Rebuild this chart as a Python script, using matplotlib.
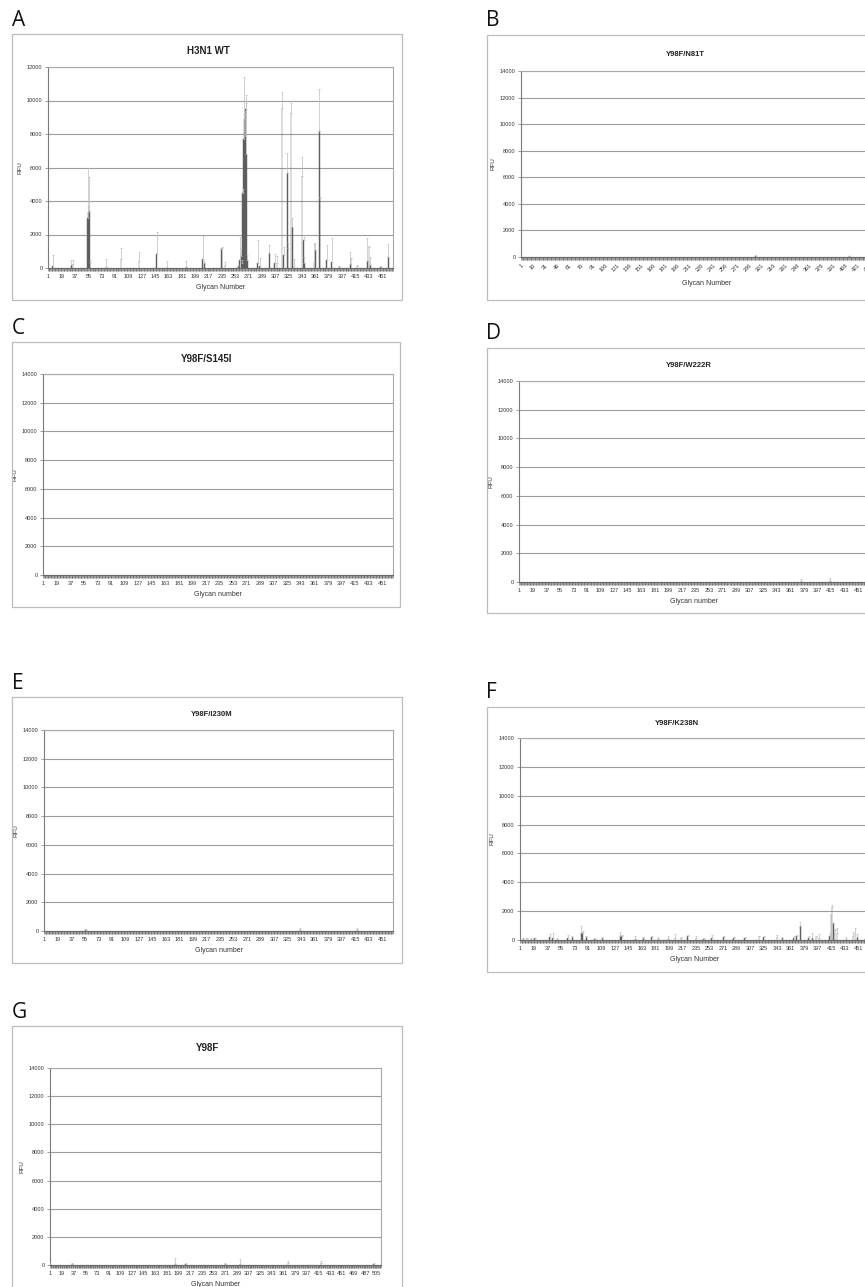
import numpy as np
import matplotlib.pyplot as plt
from matplotlib.patches import Rectangle

W, H = 865, 1287

############## data (RFU peaks, other glycans ~0) ##############
# A  H3N1 WT
a_glycan = [7, 32, 34, 54, 55, 56, 57, 79, 99, 123, 147, 161, 187, 209, 211, 234, 235, 239,
            257, 259, 261, 262, 263, 264, 265, 266, 267, 268, 269, 283, 286, 299, 306, 309,
            316, 318, 323, 324, 328, 330, 332, 343, 345, 346, 359, 361, 366, 367, 376, 383,
            393, 408, 409, 417, 431, 433, 435, 449, 459]
a_rfu = [100, 150, 250, 3000, 3350, 3400, 300, 60, 540, 420, 840, 30, 30, 540, 300, 1150, 1200, 180,
         100, 500, 700, 300, 4500, 7700, 8900, 7900, 9500, 6800, 500, 300, 100, 870, 300, 280,
         9570, 800, 5650, 1180, 9270, 2470, 100, 5490, 1670, 300, 380, 1100, 8180, 4160, 480, 380,
         50, 240, 520, 100, 440, 1270, 150, 50, 680]
a_err = [680, 300, 230, 700, 2650, 2050, 200, 460, 640, 550, 1300, 390, 390, 1370, 120, 60, 60, 200,
         100, 1370, 500, 200, 200, 3700, 300, 1500, 350, 3500, 300, 1370, 500, 500, 540, 430,
         920, 460, 1200, 300, 560, 500, 430, 1160, 200, 380, 1030, 370, 2490, 100, 890, 1430,
         70, 730, 80, 100, 1370, 60, 530, 50, 730]

# B  Y98F/N81T
b_glycan = [294, 411]
b_rfu = [80, 60]
b_err = [70, 50]

# C  Y98F/S145I
c_glycan = []
c_rfu = []
c_err = []

# D  Y98F/W222R
d_glycan = [375, 414]
d_rfu = [50, 80]
d_err = [150, 170]

# E  Y98F/I230M
e_glycan = [56, 342, 418]
e_rfu = [50, 80, 100]
e_err = [60, 120, 120]

# F  Y98F/K238N
f_glycan = [5, 10, 15, 20, 40, 44, 50, 64, 70, 82, 84, 89, 100, 110, 134, 136, 154, 165, 176, 185,
            198, 207, 215, 224, 235, 245, 256, 272, 285, 300, 319, 325, 343, 350, 365, 369, 374,
            385, 390, 395, 399, 413, 415, 416, 418, 420, 423, 435, 444, 447, 450, 460]
f_rfu = [100, 120, 100, 110, 200, 150, 80, 150, 200, 480, 500, 200, 100, 120, 300, 300, 100, 120, 200, 100,
         100, 150, 150, 300, 150, 100, 150, 200, 150, 120, 250, 200, 200, 150, 150, 250, 1000,
         150, 150, 200, 150, 300, 1700, 2310, 1150, 690, 470, 100, 300, 400, 200, 100]
f_err = [50, 40, 50, 40, 220, 350, 60, 200, 50, 520, 150, 50, 40, 60, 230, 20, 150, 60, 50, 80,
         200, 250, 50, 50, 100, 60, 180, 50, 50, 60, 60, 80, 130, 60, 100, 80, 230,
         100, 310, 80, 250, 200, 100, 90, 50, 100, 330, 80, 230, 400, 200, 50]

# G  Y98F
g_glycan = [1, 35, 194, 210, 271, 294, 368, 419, 500]
g_rfu = [80, 80, 60, 80, 100, 100, 150, 150, 80]
g_err = [60, 40, 460, 40, 60, 300, 100, 150, 30]

def fx(px):
    return px / W

def fy(py):
    return 1 - py / H

def px_axes(fig, l, t, r, b):
    return fig.add_axes([fx(l), fy(b), fx(r - l), (b - t) / H])


def panel(fig, letter, title, tx, frame, plot, n, ymax, xlab, gly, rfu, err,
          tsize=5.5, rot=False, lx=12, last_label=None):
    fl, ft, fr, fb = frame
    fig.add_artist(Rectangle((fx(fl), fy(fb)), fx(fr - fl), (fb - ft) / H,
                             transform=fig.transFigure, fill=False,
                             edgecolor='#bdbdbd', lw=0.9))
    fig.text(fx(lx), fy(ft - 14), letter, fontsize=15, family='Open Sans',
             ha='left', va='center', color='#111111')
    l, t, r, b = plot
    fig.text(fx(tx), fy((ft + t) / 2 + 1), title,
             fontsize=tsize, fontweight='bold', family='Liberation Sans',
             ha='center', va='center', color='#222222')

    ax = px_axes(fig, l, t, r, b)
    if len(gly):
        ax.bar(gly, rfu, width=0.9, color='#5e5e5e', edgecolor='#5e5e5e', lw=0.3,
               yerr=[np.zeros(len(err)), err],
               error_kw=dict(ecolor='#bdbdbd', elinewidth=0.5, capsize=0.9, capthick=0.5),
               zorder=3)
    ax.set_xlim(0.5, n + 0.5)
    ax.set_ylim(0, ymax)
    ax.set_yticks(np.arange(0, ymax + 1, 2000))
    ax.grid(axis='y', color='#9c9c9c', lw=0.8)
    ax.set_axisbelow(True)
    for s in ax.spines.values():
        s.set_color('#a8a8a8')
        s.set_linewidth(0.8)
    ax.spines['left'].set_color('#7a7a7a')
    ax.spines['bottom'].set_color('#6a6a6a')

    interval = 15 if rot else 18
    ax.set_xticks(np.arange(1, (last_label or n) + 1, interval))
    ax.set_xticks(np.arange(0.5, n + 1, 1), minor=True)
    ax.tick_params(axis='x', which='major', length=0, labelsize=4, colors='#333333', pad=4)
    ax.tick_params(axis='x', which='minor', length=2.2, width=0.4, color='#555555')
    ax.tick_params(axis='y', length=2, width=0.5, color='#777777', labelsize=4,
                   labelcolor='#333333', pad=2)
    if rot:
        for lab in ax.get_xticklabels():
            lab.set_rotation(45)
            lab.set_ha('right')
            lab.set_rotation_mode('anchor')
    ax.set_ylabel('RFU', fontsize=4.5, color='#333333', labelpad=3)
    ax.set_xlabel(xlab, fontsize=5, color='#333333', labelpad=4 if not rot else 5)
    return ax


fig = plt.figure(figsize=(W / 100, H / 100), dpi=100)
plt.rcParams['font.family'] = ['Liberation Sans', 'DejaVu Sans']

panel(fig, 'A', 'H3N1 WT', 208, (12, 34, 402, 300), (48, 67, 393, 268), 465, 12000,
      'Glycan Number', a_glycan, a_rfu, a_err, tsize=7)
panel(fig, 'B', 'Y98F/N81T', 685, (487, 35, 905, 300), (521, 71, 893, 257), 465, 14000,
      'Glycan Number', b_glycan, b_rfu, b_err, tsize=5.5, rot=True, lx=486, last_label=436)
panel(fig, 'C', 'Y98F/S145I', 207, (12, 342, 400, 607), (43, 374, 393, 575), 465, 14000,
      'Glycan number', c_glycan, c_rfu, c_err, tsize=7)
panel(fig, 'D', 'Y98F/W222R', 689, (487, 348, 905, 613), (519, 381, 869, 582), 465, 14000,
      'Glycan number', d_glycan, d_rfu, d_err, tsize=5.5, lx=486)
panel(fig, 'E', 'Y98F/I230M', 212, (12, 697, 402, 963), (44, 730, 393, 931), 465, 14000,
      'Glycan number', e_glycan, e_rfu, e_err, tsize=5.5)
panel(fig, 'F', 'Y98F/K238N', 677, (487, 707, 905, 972), (520, 738, 869, 940), 465, 14000,
      'Glycan Number', f_glycan, f_rfu, f_err, tsize=5.5, lx=486)
panel(fig, 'G', 'Y98F', 208, (12, 1026, 402, 1300), (50, 1068, 381, 1265), 511, 14000,
      'Glycan Number', g_glycan, g_rfu, g_err, tsize=7)

fig.savefig('out.png', dpi=100, facecolor='white')
